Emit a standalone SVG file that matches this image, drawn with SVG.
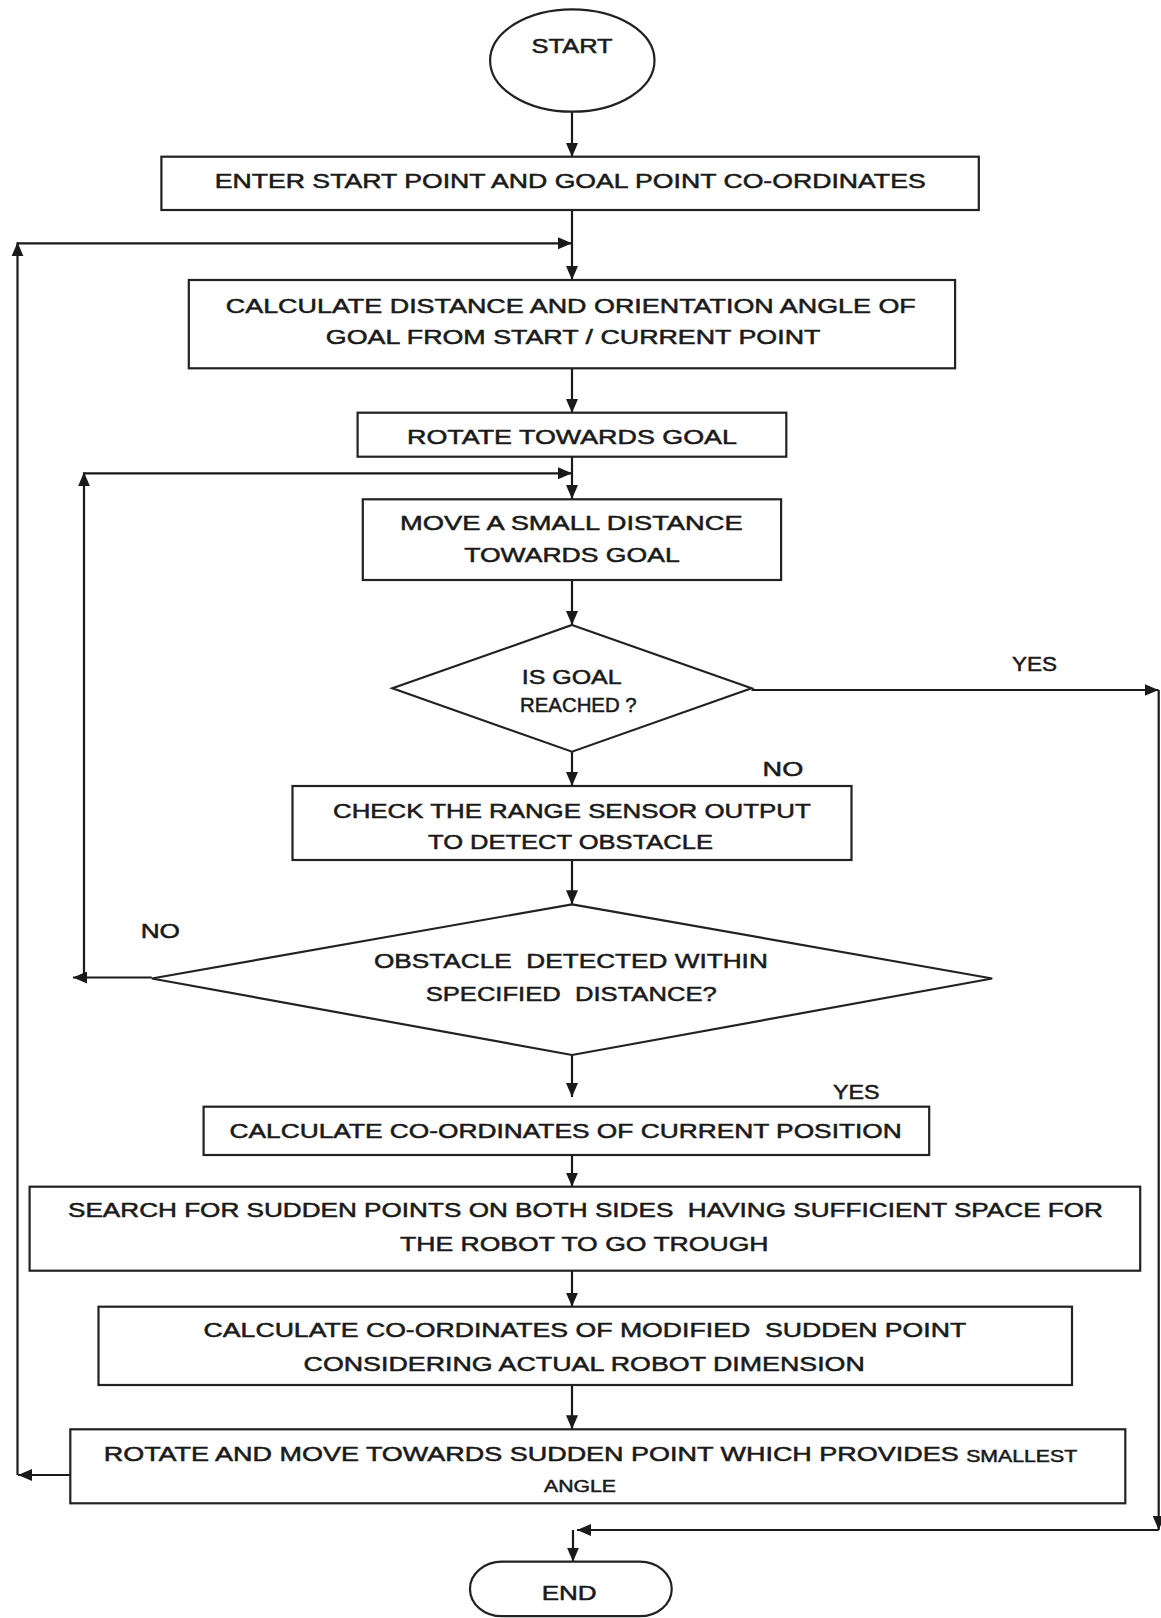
<svg xmlns="http://www.w3.org/2000/svg" width="1161" height="1618" viewBox="0 0 1161 1618">
<style>
.box{fill:#fff;stroke:#222;stroke-width:2.2}
.ln{fill:none;stroke:#1a1a1a;stroke-width:2.2}
.t{font-family:"Liberation Sans",Arial,sans-serif;font-size:20px;fill:#1a1a1a;stroke:#1a1a1a;stroke-width:0.5}
.s{font-size:17px}
</style>
<defs>
<marker id="arr" markerUnits="userSpaceOnUse" markerWidth="14" markerHeight="12" refX="14" refY="6" orient="auto" viewBox="0 0 14 12">
<path d="M0,0 L14,6 L0,12 z" fill="#1a1a1a"/>
</marker>
</defs>
<rect width="1161" height="1618" fill="#fff"/>
<g id="connectors">
<line class="ln" x1="572" y1="112" x2="572" y2="157" marker-end="url(#arr)"/>
<line class="ln" x1="572" y1="210" x2="572" y2="280" marker-end="url(#arr)"/>
<line class="ln" x1="17.5" y1="243.3" x2="572" y2="243.3" marker-end="url(#arr)"/>
<line class="ln" x1="17.5" y1="1475" x2="17.5" y2="242.3" marker-end="url(#arr)"/>
<line class="ln" x1="572" y1="368" x2="572" y2="413" marker-end="url(#arr)"/>
<line class="ln" x1="572" y1="457" x2="572" y2="499" marker-end="url(#arr)"/>
<line class="ln" x1="84" y1="473.3" x2="572" y2="473.3" marker-end="url(#arr)"/>
<line class="ln" x1="84" y1="977.5" x2="84" y2="472.3" marker-end="url(#arr)"/>
<line class="ln" x1="572" y1="580" x2="572" y2="625" marker-end="url(#arr)"/>
<line class="ln" x1="751.5" y1="690" x2="1158.5" y2="690" marker-end="url(#arr)"/>
<line class="ln" x1="1158.7" y1="690" x2="1158.7" y2="1530" marker-end="url(#arr)"/>
<line class="ln" x1="572" y1="751.7" x2="572" y2="786" marker-end="url(#arr)"/>
<line class="ln" x1="572" y1="860" x2="572" y2="904.3" marker-end="url(#arr)"/>
<line class="ln" x1="151.8" y1="977.5" x2="73" y2="977.5" marker-end="url(#arr)"/>
<line class="ln" x1="572" y1="1055" x2="572" y2="1097" marker-end="url(#arr)"/>
<line class="ln" x1="572" y1="1155" x2="572" y2="1186.7" marker-end="url(#arr)"/>
<line class="ln" x1="572" y1="1270.7" x2="572" y2="1306.7" marker-end="url(#arr)"/>
<line class="ln" x1="572" y1="1385" x2="572" y2="1429.3" marker-end="url(#arr)"/>
<line class="ln" x1="70.3" y1="1475" x2="18" y2="1475" marker-end="url(#arr)"/>
<line class="ln" x1="1158.7" y1="1530" x2="577" y2="1530" marker-end="url(#arr)"/>
<polyline class="ln" points="573,1530 573,1561.7" marker-end="url(#arr)"/>
<text class="t" x="1012" y="670.5" textLength="45" lengthAdjust="spacingAndGlyphs">YES</text>
<text class="t" x="762.6" y="775.5" textLength="40.7" lengthAdjust="spacingAndGlyphs">NO</text>
<text class="t" x="140.7" y="937.5" textLength="39.3" lengthAdjust="spacingAndGlyphs">NO</text>
<text class="t" x="833" y="1099" textLength="46.6" lengthAdjust="spacingAndGlyphs">YES</text>
</g>
<g id="start">
<ellipse class="box" cx="572.3" cy="60.5" rx="82.2" ry="51.2"/>
<text class="t" x="531.6" y="52.5" textLength="81" lengthAdjust="spacingAndGlyphs">START</text>
</g>
<g id="enter">
<rect class="box" x="161.4" y="156.7" width="817.4" height="53.3"/>
<text class="t" x="214.7" y="188" textLength="711" lengthAdjust="spacingAndGlyphs">ENTER START POINT AND GOAL POINT CO-ORDINATES</text>
</g>
<g id="calc-distance">
<rect class="box" x="188.8" y="280" width="766.3" height="88.3"/>
<text class="t" x="225.8" y="312.5" textLength="690" lengthAdjust="spacingAndGlyphs">CALCULATE DISTANCE AND ORIENTATION ANGLE OF</text>
<text class="t" x="325.8" y="344" textLength="494.6" lengthAdjust="spacingAndGlyphs">GOAL FROM START / CURRENT POINT</text>
</g>
<g id="rotate-goal">
<rect class="box" x="357.6" y="412.7" width="428.7" height="44"/>
<text class="t" x="407" y="444" textLength="330" lengthAdjust="spacingAndGlyphs">ROTATE TOWARDS GOAL</text>
</g>
<g id="move">
<rect class="box" x="362.8" y="499.3" width="418.3" height="80.7"/>
<text class="t" x="400" y="530" textLength="342.6" lengthAdjust="spacingAndGlyphs">MOVE A SMALL DISTANCE</text>
<text class="t" x="464.2" y="561.5" textLength="215.5" lengthAdjust="spacingAndGlyphs">TOWARDS GOAL</text>
</g>
<g id="goal-reached">
<polygon class="box" points="572,625 751.5,688.3 572,751.7 392.4,688.3"/>
<text class="t" x="521.7" y="684.3" textLength="100" lengthAdjust="spacingAndGlyphs">IS GOAL</text>
<text class="t" x="520" y="711.7" textLength="116.7" lengthAdjust="spacingAndGlyphs">REACHED ?</text>
</g>
<g id="check-sensor">
<rect class="box" x="292.5" y="786" width="559" height="74"/>
<text class="t" x="333" y="817.5" textLength="477.7" lengthAdjust="spacingAndGlyphs">CHECK THE RANGE SENSOR OUTPUT</text>
<text class="t" x="428" y="849" textLength="285" lengthAdjust="spacingAndGlyphs">TO DETECT OBSTACLE</text>
</g>
<g id="obstacle-detected">
<polygon class="box" points="572,904.3 992.2,978.5 572,1055 151.8,978.5"/>
<text class="t" x="374" y="967.5" textLength="393.8" lengthAdjust="spacingAndGlyphs" xml:space="preserve">OBSTACLE  DETECTED WITHIN</text>
<text class="t" x="425.7" y="1000.8" textLength="291" lengthAdjust="spacingAndGlyphs" xml:space="preserve">SPECIFIED  DISTANCE?</text>
</g>
<g id="calc-current">
<rect class="box" x="203.6" y="1106.7" width="725.6" height="48.3"/>
<text class="t" x="229.5" y="1137.5" textLength="672.3" lengthAdjust="spacingAndGlyphs">CALCULATE CO-ORDINATES OF CURRENT POSITION</text>
</g>
<g id="search">
<rect class="box" x="29.6" y="1186.7" width="1110.6" height="84"/>
<text class="t" x="68" y="1216.8" textLength="1035" lengthAdjust="spacingAndGlyphs" xml:space="preserve">SEARCH FOR SUDDEN POINTS ON BOTH SIDES  HAVING SUFFICIENT SPACE FOR</text>
<text class="t" x="400" y="1250.8" textLength="368.5" lengthAdjust="spacingAndGlyphs">THE ROBOT TO GO TROUGH</text>
</g>
<g id="calc-modified">
<rect class="box" x="98.5" y="1306.7" width="973.5" height="78.3"/>
<text class="t" x="203.6" y="1336.8" textLength="762.6" lengthAdjust="spacingAndGlyphs" xml:space="preserve">CALCULATE CO-ORDINATES OF MODIFIED  SUDDEN POINT</text>
<text class="t" x="303.6" y="1370.8" textLength="561.2" lengthAdjust="spacingAndGlyphs">CONSIDERING ACTUAL ROBOT DIMENSION</text>
</g>
<g id="rotate-move">
<rect class="box" x="70.3" y="1429.3" width="1055" height="74"/>
<text class="t" x="103.7" y="1460.8" textLength="855" lengthAdjust="spacingAndGlyphs">ROTATE AND MOVE TOWARDS SUDDEN POINT WHICH PROVIDES</text>
<text class="t s" x="966.2" y="1462" textLength="111" lengthAdjust="spacingAndGlyphs">SMALLEST</text>
<text class="t s" x="544" y="1491.5" textLength="72" lengthAdjust="spacingAndGlyphs">ANGLE</text>
</g>
<g id="end">
<rect class="box" x="470" y="1561.7" width="201.7" height="54.5" rx="32" ry="27"/>
<text class="t" x="541.7" y="1600" textLength="55" lengthAdjust="spacingAndGlyphs">END</text>
</g>
</svg>
